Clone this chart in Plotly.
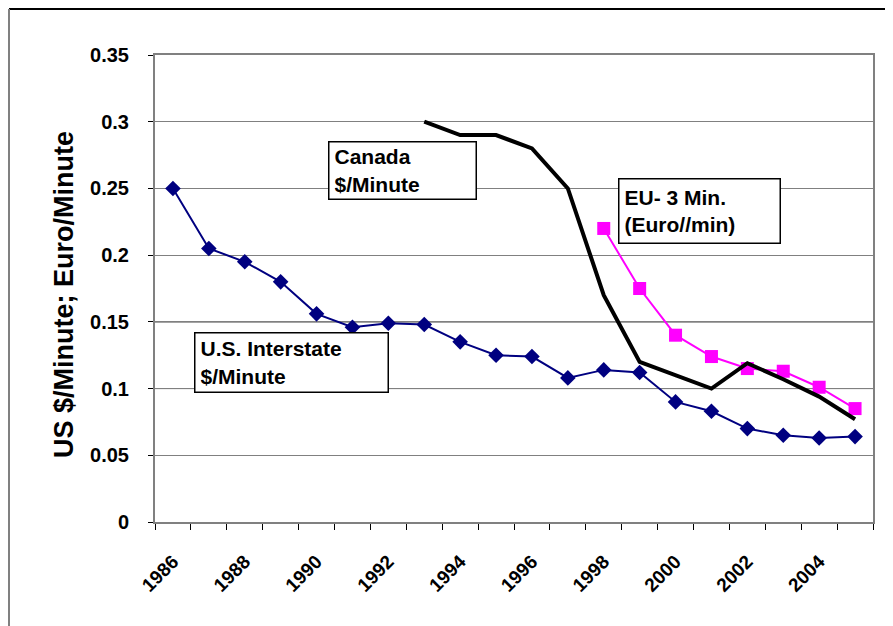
import plotly.graph_objects as go

years = list(range(1986, 2006))
us_interstate = [0.25, 0.205, 0.195, 0.18, 0.156, 0.146, 0.149, 0.148, 0.135, 0.125,
                 0.124, 0.108, 0.114, 0.112, 0.090, 0.083, 0.070, 0.065, 0.063, 0.064]
canada_years = list(range(1993, 2006))
canada = [0.30, 0.29, 0.29, 0.28, 0.25, 0.17, 0.12, 0.11, 0.10, 0.119, 0.107, 0.094, 0.077]
eu_years = list(range(1998, 2006))
eu = [0.22, 0.175, 0.14, 0.124, 0.115, 0.113, 0.101, 0.085]
label_years = list(range(1986, 2005, 2))
y_ticks = [0, 0.05, 0.1, 0.15, 0.2, 0.25, 0.3, 0.35]
y_labels = ["0", "0.05", "0.1", "0.15", "0.2", "0.25", "0.3", "0.35"]

FONT = "Liberation Sans, Arial, sans-serif"
OFF = 8                      # page body margin
W, H = 893 - OFF, 626 - OFF
PL, PR, PT, PB = 155, 873, 55, 522   # plot area in page pixels
L, R, T, B = PL - OFF, (W + OFF) - PR, PT - OFF, (H + OFF) - PB
PW, PH = PR - PL, PB - PT

def px(x):
    return (x - PL) / PW

def py(y):
    return (PB - y) / PH

fig = go.Figure()
fig.add_trace(go.Scatter(x=years, y=us_interstate, mode="lines+markers",
                         line=dict(color="#000080", width=2),
                         marker=dict(symbol="diamond", size=12, color="#000080"),
                         name="U.S. Interstate"))
fig.add_trace(go.Scatter(x=eu_years, y=eu, mode="lines+markers",
                         line=dict(color="#FF00FF", width=2),
                         marker=dict(symbol="square", size=13, color="#FF00FF"),
                         name="EU"))
fig.add_trace(go.Scatter(x=canada_years, y=canada, mode="lines",
                         line=dict(color="#000000", width=4),
                         name="Canada"))

fig.update_layout(
    width=W, height=H,
    margin=dict(l=L, r=R, t=T, b=B),
    paper_bgcolor="white", plot_bgcolor="white",
    showlegend=False,
    font=dict(family=FONT, color="black"),
)
fig.update_xaxes(
    range=[1985.5, 2005.5],
    tickmode="array", tickvals=label_years, ticktext=[str(y) for y in label_years],
    ticks="", tickangle=-45, ticklabelstandoff=19,
    tickfont=dict(family=FONT, size=19, weight="bold", color="black"),
    showgrid=False, zeroline=False,
    showline=True, linecolor="#808080", linewidth=2, mirror=True,
    minor=dict(tickvals=[y - 0.5 for y in years] + [years[-1] + 0.5],
               ticks="outside", ticklen=6, tickcolor="black", tickwidth=1, showgrid=False),
)
fig.update_yaxes(
    range=[0, 0.35],
    tickmode="array", tickvals=y_ticks, ticktext=y_labels,
    ticks="outside", ticklen=5, tickcolor="black", ticklabelstandoff=15,
    tickfont=dict(family=FONT, size=20, weight="bold", color="black"),
    showgrid=True, gridcolor="#808080", gridwidth=1, zeroline=False,
    showline=True, linecolor="#808080", linewidth=2, mirror=True,
)

shapes = []
for gy in [0.1, 0.15]:
    shapes.append(dict(type="line", xref="paper", yref="y", x0=0, x1=1, y0=gy, y1=gy,
                       line=dict(color="black", width=1), layer="below"))
# outer frame
shapes.append(dict(type="line", xref="paper", yref="paper", x0=px(9), x1=px(893),
                   y0=py(9), y1=py(9), line=dict(color="black", width=2)))
shapes.append(dict(type="line", xref="paper", yref="paper", x0=px(9), x1=px(9),
                   y0=py(9), y1=py(626), line=dict(color="#808080", width=2)))
fig.update_layout(shapes=shapes)

PAD, BW = 5, 1.5

def box(text, x0, y0, x1, y1):
    fig.add_annotation(text=text, xref="paper", yref="paper",
                       x=px(x0), y=py(y0), xanchor="left", yanchor="top",
                       width=x1 - x0 - 2 * PAD - 2 * BW, height=y1 - y0 - 2 * PAD - 2 * BW,
                       align="left", valign="middle",
                       showarrow=False, bgcolor="white", bordercolor="black", borderwidth=BW,
                       borderpad=PAD,
                       font=dict(family=FONT, size=21, weight="bold", color="black"))

box("Canada<br>$/Minute", 328, 141, 477, 200)
box("EU- 3 Min.<br>(Euro//min)", 618, 178, 781, 244)
box("U.S. Interstate<br>$/Minute", 194, 332, 389, 393)

fig.add_annotation(text="US $/Minute; Euro/Minute", xref="paper", yref="paper",
                   x=px(64), y=py(295), xanchor="center", yanchor="middle", textangle=-90,
                   showarrow=False,
                   font=dict(family=FONT, size=27, weight="bold", color="black"))

fig.write_html("out.html")
